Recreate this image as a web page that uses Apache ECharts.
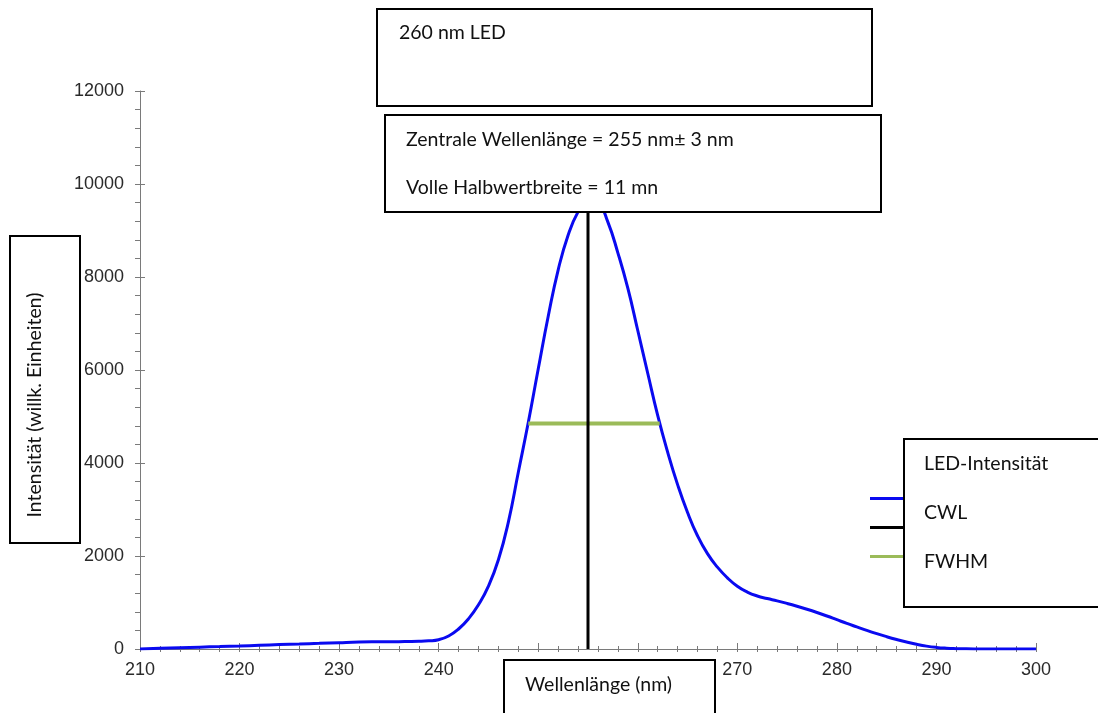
<!DOCTYPE html>
<html>
<head>
<meta charset="utf-8">
<script src="https://cdn.jsdelivr.net/npm/echarts@6/dist/echarts.min.js"></script>
<style>
  html, body { margin: 0; padding: 0; background: #fff; }
  #chart { width: 1098px; height: 713px; }
</style>
</head>
<body>
<div id="chart"></div>
<script>
// wavelength (nm) and LED intensity
const wavelengths = [210, 212, 214, 216, 218, 220, 222, 224, 226, 228, 230, 232, 234, 236, 238, 239,
    240, 241, 242, 243, 244, 245, 246, 247, 248, 249, 250, 251, 252, 253, 254, 255, 256, 257, 258, 259,
    260, 261, 262, 263, 264, 265, 266, 267, 268, 269, 270, 271, 272, 273, 274, 275, 276, 277, 278, 279,
    280, 281, 282, 283, 284, 285, 286, 287, 288, 289, 290, 291, 292, 293, 294, 296, 298, 300];
const intensity = [0, 15, 28, 40, 52, 65, 80, 95, 108, 122, 137, 150, 155, 158, 165, 175,
    200, 280, 430, 650, 950, 1350, 1920, 2730, 3800, 4870, 6020, 7150, 8150, 8900, 9400, 9680, 9610, 9180, 8520, 7760,
    6850, 5930, 5025, 4235, 3535, 2935, 2435, 2050, 1760, 1530, 1350, 1225, 1140, 1085, 1035, 980, 920, 855, 785, 710,
    630, 550, 475, 400, 330, 265, 205, 150, 102, 62, 34, 17, 8, 3, 1, 0, 0, 0];

const cwlX = 255;
const cwlY = [0, 9700];
const fwhmX = [249, 262.2];
const fwhmY = 4850;

const xTicks = { min: 210, max: 300, interval: 10 };
const yTicks = { min: 0, max: 12000, interval: 2000 };

const seriesNames = ['LED-Intensität', 'CWL', 'FWHM'];

let ledData = wavelengths.map((w, i) => [w, intensity[i]]);
let cwlData = cwlY.map(v => [cwlX, v]);
let fwhmData = fwhmX.map(x => [x, fwhmY]);

const axisGray = '#7a7a7a';
const boxFont = '19.5px Lato, "Open Sans", sans-serif';
const tickFont = '"Liberation Sans", Arial, sans-serif';

function box(x, y, w, h) {
    return {
        type: 'rect', z: 100,
        shape: { x: x, y: y, width: w, height: h },
        style: { fill: '#fff', stroke: '#000', lineWidth: 2 }
    };
}

function label(x, y, text, extra) {
    return Object.assign({
        type: 'text', z: 101, x: x, y: y,
        style: { text: text, font: boxFont, fill: '#111', textVerticalAlign: 'middle' }
    }, extra || {});
}

var myChart = echarts.init(document.getElementById('chart'));
myChart.setOption({
    animation: false,
    grid: { left: 140, right: 62, top: 91, bottom: 64 },
    legend: {
        orient: 'vertical',
        left: 870, top: 497,
        padding: 0,
        icon: 'rect',
        itemWidth: 33, itemHeight: 3, itemGap: 26,
        formatter: () => '',
        data: seriesNames
    },
    xAxis: [{
        type: 'value', min: xTicks.min, max: xTicks.max, interval: xTicks.interval,
        axisLine: { lineStyle: { color: axisGray, width: 1 } },
        axisTick: { length: 3, lineStyle: { color: axisGray } },
        minorTick: { show: true, splitNumber: 5, length: 3, lineStyle: { color: axisGray } },
        axisLabel: { color: '#2a2a2a', fontSize: 18, fontFamily: tickFont, margin: 12 },
        splitLine: { show: false }
    }, {
        type: 'value', min: xTicks.min, max: xTicks.max, interval: xTicks.interval,
        position: 'bottom',
        axisLine: { show: false },
        axisTick: { inside: true, length: 6, lineStyle: { color: axisGray } },
        minorTick: { show: true, splitNumber: 5, length: 3, lineStyle: { color: axisGray } },
        axisLabel: { show: false },
        splitLine: { show: false }
    }],
    yAxis: [{
        type: 'value', min: yTicks.min, max: yTicks.max, interval: yTicks.interval,
        axisLine: { show: true, lineStyle: { color: axisGray, width: 1 } },
        axisTick: { show: true, length: 5, lineStyle: { color: axisGray } },
        minorTick: { show: true, splitNumber: 5, length: 5, lineStyle: { color: axisGray } },
        axisLabel: {
            color: '#2a2a2a', fontSize: 18, fontFamily: tickFont, margin: 16,
            formatter: v => String(v)
        },
        splitLine: { show: false }
    }, {
        type: 'value', min: yTicks.min, max: yTicks.max, interval: yTicks.interval,
        position: 'left',
        axisLine: { show: false },
        axisTick: { show: true, inside: true, length: 5, lineStyle: { color: axisGray } },
        axisLabel: { show: false },
        splitLine: { show: false }
    }],
    series: [{
        name: seriesNames[0], type: 'line', data: ledData,
        smooth: true, symbol: 'none',
        lineStyle: { color: '#0a0af0', width: 3 },
        itemStyle: { color: '#0a0af0' }
    }, {
        name: seriesNames[2], type: 'line', data: fwhmData,
        symbol: 'none', z: 3,
        lineStyle: { color: '#9bbb59', width: 4 },
        itemStyle: { color: '#9bbb59' }
    }, {
        name: seriesNames[1], type: 'line', data: cwlData,
        symbol: 'none', z: 4,
        lineStyle: { color: '#000', width: 3 },
        itemStyle: { color: '#000' }
    }],
    graphic: [
        box(377, 9, 495, 97),
        label(399, 33, '260 nm LED'),
        box(385, 115, 496, 97),
        label(406, 140, 'Zentrale Wellenlänge = 255 nm± 3 nm'),
        label(406, 188, 'Volle Halbwertbreite = 11 mn'),
        box(10, 236, 70, 307),
        label(35, 405, 'Intensität (willk. Einheiten)', {
            rotation: Math.PI / 2,
            style: { text: 'Intensität (willk. Einheiten)', font: boxFont, fill: '#111', textAlign: 'center', textVerticalAlign: 'middle' }
        }),
        box(504, 660, 211, 60),
        label(525, 685, 'Wellenlänge (nm)'),
        box(904, 439, 200, 168),
        label(924, 464, 'LED-Intensität'),
        label(924, 513, 'CWL'),
        label(924, 562, 'FWHM')
    ]
});
</script>
</body>
</html>
